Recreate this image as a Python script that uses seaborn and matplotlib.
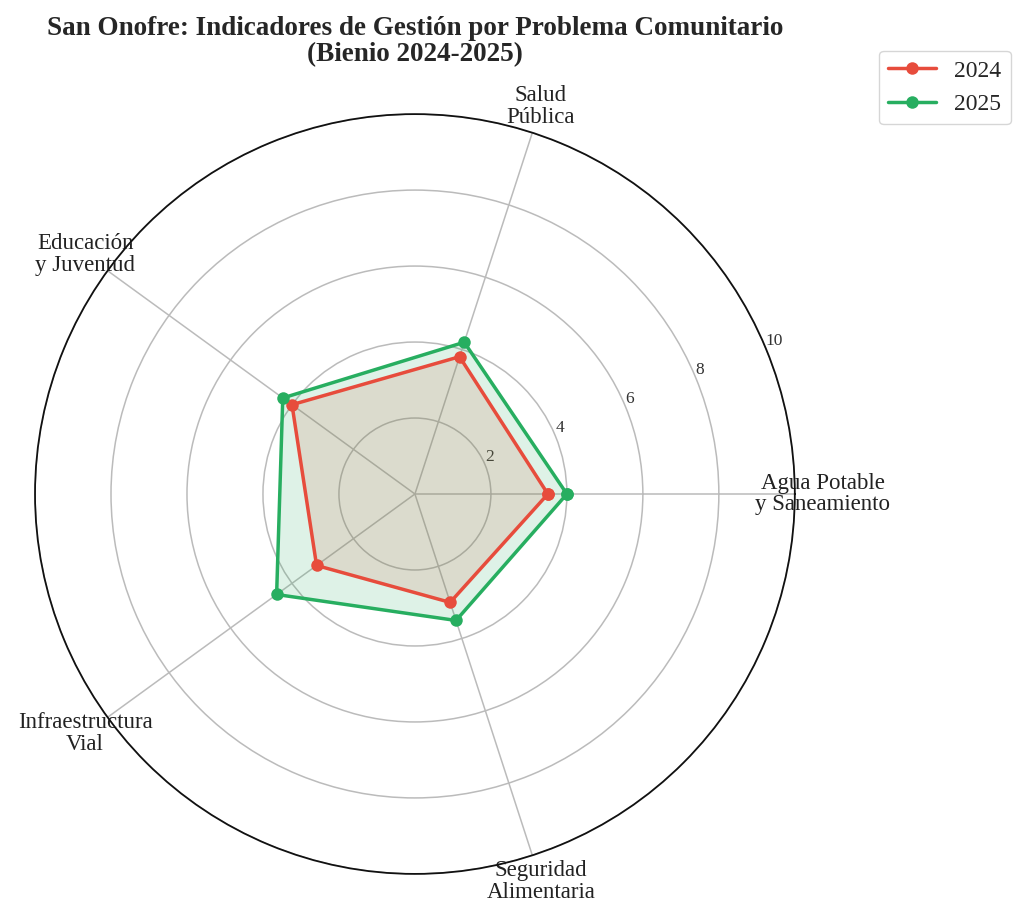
import numpy as np
import pandas as pd
import matplotlib
matplotlib.use("Agg")
import matplotlib.pyplot as plt
import seaborn as sns

categories = ["Agua Potable\ny Saneamiento", "Salud\nPública", "Educación\ny Juventud",
              "Infraestructura\nVial", "Seguridad\nAlimentaria"]
values_2024 = [3.5, 3.8, 4.0, 3.2, 3.0]
values_2025 = [4.0, 4.2, 4.3, 4.5, 3.5]
years = ["2024", "2025"]
colors = ["#e74c3c", "#27ae60"]
rticks = [2, 4, 6, 8, 10]

sns.set_theme(style="white")
plt.rcParams["font.family"] = ["Liberation Serif", "DejaVu Serif"]

n = len(categories)
angles = np.linspace(0, 2 * np.pi, n, endpoint=False)
rows = []
for yr, vals in zip(years, [values_2024, values_2025]):
    for i in range(n + 1):
        rows.append({"year": yr, "theta": angles[i % n] if i < n else angles[0] + 2 * np.pi,
                     "value": vals[i % n]})
df = pd.DataFrame(rows)

fig = plt.figure(figsize=(10.24, 9.15), dpi=100)
ax = fig.add_axes([0.0342, 0.0448, 0.742, 0.8306], projection="polar")

for yr, col in zip(years, colors):
    sub = df[df["year"] == yr]
    ax.fill(sub["theta"], sub["value"], color=col, alpha=0.15, zorder=2)
sns.lineplot(data=df, x="theta", y="value", hue="year", palette=colors, sort=False,
             linewidth=2.5, marker="o", markersize=9, markeredgewidth=0,
             estimator=None, ax=ax, zorder=3)

ax.set_ylim(0, 10)
ax.set_yticks(rticks)
ax.set_yticklabels([str(t) for t in rticks], fontsize=12.5, color="#333333")
ax.set_rlabel_position(22.5)
ax.set_xticks(angles)
ax.set_xticklabels(categories, fontsize=16.5, color="#222222", linespacing=1.05)
ax.tick_params(axis="x", pad=7)
ax.grid(True, color="#bbbbbb", linewidth=1.1)
ax.spines["polar"].set_color("#111111")
ax.spines["polar"].set_linewidth(1.3)
ax.set_xlabel("")
ax.set_ylabel("")

leg = ax.legend(loc="upper right", bbox_to_anchor=(1.300, 1.099), fontsize=17,
                frameon=True, title=None)
leg.get_frame().set_edgecolor("#cccccc")

fig.suptitle("San Onofre: Indicadores de Gestión por Problema Comunitario\n(Bienio 2024-2025)",
             x=0.405, y=0.983, fontsize=19.5, fontweight="bold", linespacing=1.1)

fig.savefig("out.png", dpi=100)
